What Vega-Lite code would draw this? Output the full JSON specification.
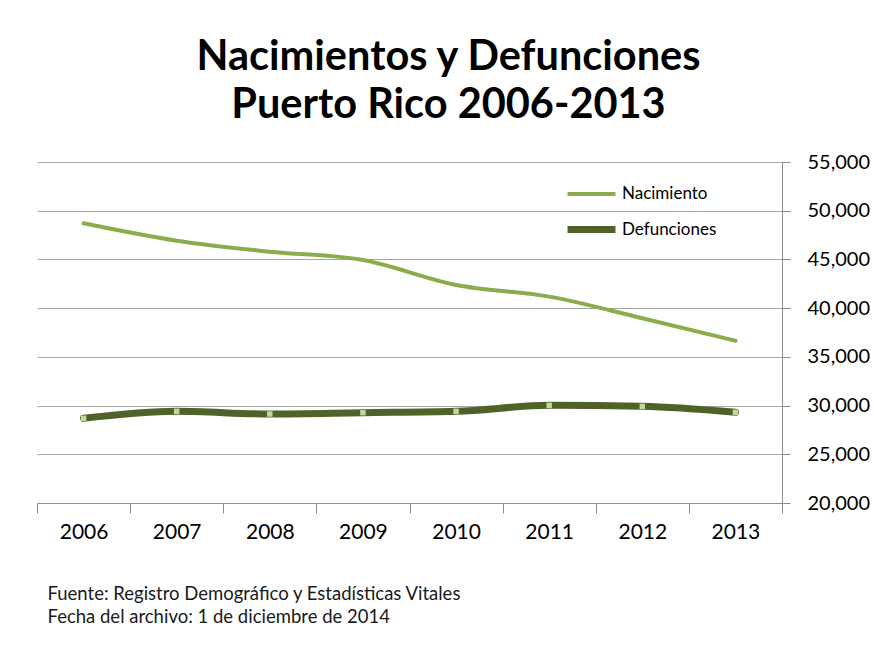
{
  "$schema": "https://vega.github.io/schema/vega-lite/v6.json",
  "autosize": {"type": "none"},
  "width": 745,
  "height": 341,
  "padding": {"left": 37, "top": 162, "right": 94, "bottom": 148},
  "background": "white",
  "config": {
    "font": "Lato",
    "view": {"stroke": null}
  },
  "title": {
    "text": ["Nacimientos y Defunciones", "Puerto Rico 2006-2013"],
    "font": "Lato",
    "fontSize": 41.5,
    "fontWeight": "bold",
    "color": "#000000",
    "lineHeight": 48,
    "anchor": "middle",
    "dx": 39,
    "offset": 26
  },
  "data": {
    "values": [
      {"year": "2006", "series": "Nacimiento", "value": 48710},
      {"year": "2007", "series": "Nacimiento", "value": 46920},
      {"year": "2008", "series": "Nacimiento", "value": 45790},
      {"year": "2009", "series": "Nacimiento", "value": 44940},
      {"year": "2010", "series": "Nacimiento", "value": 42375},
      {"year": "2011", "series": "Nacimiento", "value": 41180},
      {"year": "2012", "series": "Nacimiento", "value": 38960},
      {"year": "2013", "series": "Nacimiento", "value": 36660},
      {"year": "2006", "series": "Defunciones", "value": 28690},
      {"year": "2007", "series": "Defunciones", "value": 29410},
      {"year": "2008", "series": "Defunciones", "value": 29135},
      {"year": "2009", "series": "Defunciones", "value": 29270},
      {"year": "2010", "series": "Defunciones", "value": 29410},
      {"year": "2011", "series": "Defunciones", "value": 30025},
      {"year": "2012", "series": "Defunciones", "value": 29920},
      {"year": "2013", "series": "Defunciones", "value": 29305}
    ]
  },
  "encoding": {
    "x": {
      "field": "year",
      "type": "ordinal",
      "scale": {"paddingInner": 0, "paddingOuter": 0},
      "axis": {
        "title": ["Fuente: Registro Demográfico y Estadísticas Vitales", "Fecha del archivo:  1 de diciembre de 2014"],
        "titleFont": "Lato",
        "titleFontSize": 18.5,
        "titleFontWeight": "normal",
        "titleColor": "#1a1a1a",
        "titleAnchor": "start",
        "titleAlign": "left",
        "titleBaseline": "alphabetic",
        "titleLineHeight": 23,
        "titleX": 10,
        "titleY": 96,
        "labelAngle": 0,
        "labelFont": "Lato",
        "labelFontSize": 21,
        "labelColor": "#000000",
        "labelPadding": 8,
        "tickBand": "extent",
        "tickSize": 10,
        "tickColor": "#8c8c8c",
        "domainColor": "#8c8c8c",
        "grid": false
      }
    },
    "y": {
      "field": "value",
      "type": "quantitative",
      "scale": {"domain": [20000, 55000], "nice": false, "zero": false},
      "axis": {
        "orient": "right",
        "title": null,
        "values": [20000, 25000, 30000, 35000, 40000, 45000, 50000, 55000],
        "format": ",d",
        "labelFont": "Lato",
        "labelFontSize": 20,
        "labelColor": "#000000",
        "labelPadding": 17,
        "tickSize": 8,
        "tickColor": "#8c8c8c",
        "domainColor": "#8c8c8c",
        "grid": true,
        "gridColor": "#a6a6a6",
        "gridWidth": 1
      }
    }
  },
  "layer": [
    {
      "mark": {"type": "line", "interpolate": "monotone", "strokeCap": "round"},
      "encoding": {
        "color": {
          "field": "series",
          "type": "nominal",
          "scale": {"domain": ["Nacimiento", "Defunciones"], "range": ["#8aac4c", "#4f6228"]},
          "legend": {
            "title": null,
            "orient": "none",
            "legendX": 527,
            "legendY": 6,
            "symbolType": "stroke",
            "symbolSize": 2300,
            "labelFont": "Lato",
            "labelFontSize": 17,
            "labelColor": "#000000",
            "labelOffset": 3,
            "rowPadding": -9
          }
        },
        "strokeWidth": {
          "field": "series",
          "type": "nominal",
          "scale": {"domain": ["Nacimiento", "Defunciones"], "range": [4, 7]},
          "legend": {
            "title": null,
            "orient": "none",
            "legendX": 527,
            "legendY": 6,
            "symbolType": "stroke",
            "symbolSize": 2300,
            "labelFont": "Lato",
            "labelFontSize": 17,
            "labelColor": "#000000",
            "labelOffset": 3,
            "rowPadding": -9
          }
        }
      }
    },
    {
      "transform": [{"filter": "datum.series === 'Defunciones'"}],
      "mark": {"type": "square", "filled": true, "color": "#c3d69b", "size": 30, "opacity": 1}
    }
  ]
}
